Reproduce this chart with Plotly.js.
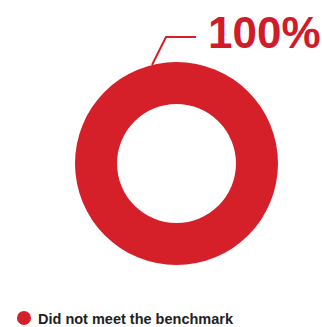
<!DOCTYPE html>
<html>
<head>
<meta charset="utf-8">
<script src="https://cdn.plot.ly/plotly-3.0.1.min.js"></script>
<style>html,body{margin:0;padding:0;background:#fff;}#chart{width:322px;height:327px;}</style>
</head>
<body>
<div id="chart"></div>
<script>
const categories = ["Did not meet the benchmark"];
const values = [100];
const colors = ["#d52029"];

const W = 322, H = 327;
const px = x => x / W;
const py = y => 1 - y / H;

const total = values.reduce((a, b) => a + b, 0);
const pctLabel = Math.round(values[0] / total * 100) + "%";

const data = [{
  type: "pie",
  labels: categories,
  values: values,
  hole: 0.586,
  sort: false,
  direction: "clockwise",
  textinfo: "none",
  hoverinfo: "label+percent",
  marker: { colors: colors, line: { width: 0 } },
  domain: { x: [px(75), px(278)], y: [py(265), py(62)] },
  showlegend: false
}];

const layout = {
  width: W, height: H,
  margin: { l: 0, r: 0, t: 0, b: 0 },
  paper_bgcolor: "#ffffff",
  plot_bgcolor: "#ffffff",
  showlegend: false,
  shapes: [
    {
      type: "path", xref: "paper", yref: "paper",
      path: `M ${px(152)},${py(65)} L ${px(166)},${py(37)} L ${px(196)},${py(37)}`,
      line: { color: colors[0], width: 2 }
    },
    {
      type: "circle", xref: "paper", yref: "paper",
      x0: px(17), x1: px(31), y0: py(325), y1: py(311),
      fillcolor: colors[0], line: { width: 0 }
    }
  ],
  annotations: [
    {
      text: "<b>" + pctLabel + "</b>", xref: "paper", yref: "paper",
      x: px(206), y: py(32), xanchor: "left", yanchor: "middle",
      showarrow: false,
      font: { family: "Liberation Sans, Arial, sans-serif", size: 44, color: "#d01c2a" }
    },
    {
      text: "<b>" + categories[0] + "</b>", xref: "paper", yref: "paper",
      x: px(36), y: py(318.5), xanchor: "left", yanchor: "middle",
      showarrow: false,
      font: { family: "Liberation Sans, Arial, sans-serif", size: 14.5, color: "#222222" }
    }
  ]
};

Plotly.newPlot("chart", data, layout, { displayModeBar: false, staticPlot: true });
</script>
</body>
</html>
